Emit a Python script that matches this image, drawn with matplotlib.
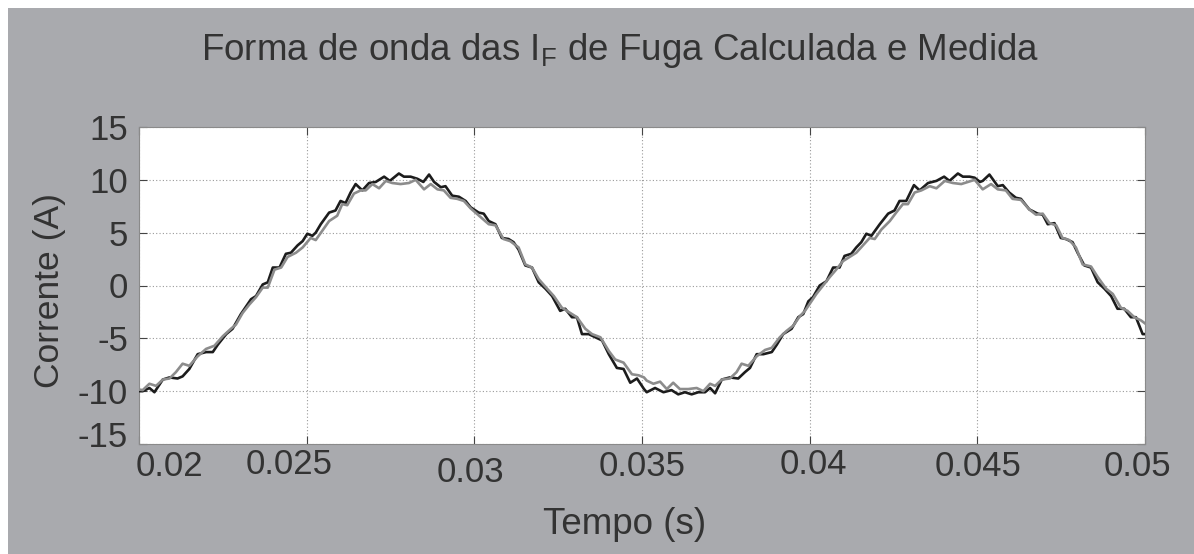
import matplotlib
matplotlib.use("Agg")
import matplotlib.pyplot as plt
from matplotlib.patches import Rectangle
from matplotlib.transforms import ScaledTranslation

plt.rcParams['font.family'] = ['Liberation Sans', 'DejaVu Sans']
plt.rcParams['mathtext.fontset'] = 'custom'
plt.rcParams['mathtext.rm'] = 'Liberation Sans'

# ---------------- data ----------------
t_medida = [0.01991, 0.02011, 0.02031, 0.02046, 0.02071, 0.02091, 0.02115, 0.02130, 0.02150, 0.02175,
            0.02200, 0.02220, 0.02235, 0.02260, 0.02279, 0.02304, 0.02334, 0.02349, 0.02369, 0.02384,
            0.02399, 0.02419, 0.02438, 0.02453, 0.02473, 0.02488,
            0.02502, 0.02517, 0.02527, 0.02542, 0.02567, 0.02586, 0.02601, 0.02616, 0.02631, 0.02646,
            0.02666, 0.02686, 0.02706, 0.02731, 0.02748, 0.02775, 0.02790, 0.02810, 0.02830, 0.02848,
            0.02865, 0.02880, 0.02900, 0.02914, 0.02934, 0.02954, 0.02974, 0.02989,
            0.03013, 0.03028, 0.03043, 0.03063, 0.03082, 0.03102, 0.03117, 0.03132, 0.03152, 0.03172,
            0.03192, 0.03212, 0.03232, 0.03256, 0.03271, 0.03291, 0.03306, 0.03321, 0.03341, 0.03361,
            0.03381, 0.03401, 0.03425, 0.03445, 0.03465, 0.03485, 0.03506,
            0.03514, 0.03539, 0.03564, 0.03588, 0.03608, 0.03628, 0.03648, 0.03668, 0.03688, 0.03703,
            0.03718, 0.03738, 0.03762, 0.03787, 0.03807, 0.03822, 0.03842, 0.03862, 0.03887, 0.03902,
            0.03921, 0.03946, 0.03966, 0.03981, 0.03996,
            0.04010, 0.04030, 0.04050, 0.04070, 0.04089, 0.04104, 0.04124, 0.04139, 0.04154, 0.04169,
            0.04184, 0.04209, 0.04234, 0.04253, 0.04268, 0.04288, 0.04311, 0.04328, 0.04353, 0.04378,
            0.04401, 0.04417, 0.04442, 0.04457, 0.04477, 0.04492, 0.04508,
            0.04516, 0.04536, 0.04561, 0.04576, 0.04595, 0.04615, 0.04630, 0.04655, 0.04680, 0.04695,
            0.04710, 0.04730, 0.04749, 0.04764, 0.04784, 0.04799, 0.04819, 0.04839, 0.04859, 0.04879,
            0.04899, 0.04918, 0.04938, 0.04958, 0.04973, 0.04993, 0.05009]
i_medida = [-10.0, -10.0, -9.7, -10.1, -8.9, -8.7, -8.8, -8.6, -7.9, -6.5,
            -6.3, -6.3, -5.6, -4.6, -4.1, -2.7, -1.3, -1.0, 0.1, 0.3,
            1.7, 1.7, 3.0, 3.1, 3.8, 4.2,
            4.9, 4.7, 5.0, 5.8, 6.9, 7.1, 8.0, 7.8, 8.8, 9.6,
            9.0, 9.7, 9.8, 10.3, 9.9, 10.6, 10.3, 10.3, 10.1, 9.8,
            10.5, 9.8, 9.3, 9.4, 8.5, 8.4, 8.0, 7.4,
            6.9, 6.8, 6.1, 5.8, 4.5, 4.4, 4.1, 3.4, 1.9, 1.7,
            0.3, -0.3, -1.0, -2.4, -2.2, -3.0, -3.0, -4.6, -4.6, -4.9,
            -5.2, -6.5, -7.8, -7.9, -9.2, -8.8, -9.8,
            -10.1, -9.7, -10.1, -9.9, -10.3, -10.1, -10.3, -10.1, -10.1, -9.7,
            -10.2, -8.9, -8.7, -8.8, -8.2, -7.8, -6.5, -6.5, -6.3, -5.6,
            -4.6, -4.1, -3.0, -2.7, -1.5,
            -1.1, 0.0, 0.4, 1.7, 1.7, 2.8, 3.0, 3.6, 4.1, 4.9,
            4.7, 5.8, 6.8, 7.1, 8.0, 8.0, 9.5, 9.0, 9.7, 9.9,
            10.3, 9.9, 10.6, 10.3, 10.3, 10.2, 9.8,
            9.9, 10.5, 9.4, 9.5, 8.8, 8.3, 8.2, 7.2, 6.8, 6.7,
            5.8, 5.9, 4.5, 4.4, 4.1, 3.1, 1.9, 1.7, 0.3, -0.3,
            -1.0, -2.2, -2.2, -3.0, -3.0, -4.6, -4.6]

t_calculada = [0.01991, 0.02011, 0.02031, 0.02051, 0.02071, 0.02091, 0.02110, 0.02130, 0.02150, 0.02175,
               0.02200, 0.02225, 0.02250, 0.02274, 0.02289, 0.02309, 0.02329, 0.02349, 0.02369, 0.02384,
               0.02404, 0.02424, 0.02443, 0.02468, 0.02488,
               0.02512, 0.02527, 0.02547, 0.02567, 0.02591, 0.02606, 0.02621, 0.02641, 0.02661, 0.02676,
               0.02696, 0.02716, 0.02736, 0.02755, 0.02780, 0.02805, 0.02825, 0.02850, 0.02870, 0.02890,
               0.02909, 0.02929, 0.02949, 0.02969, 0.02989,
               0.03018, 0.03043, 0.03063, 0.03087, 0.03107, 0.03132, 0.03152, 0.03172, 0.03192, 0.03217,
               0.03237, 0.03261, 0.03281, 0.03306, 0.03331, 0.03351, 0.03376, 0.03401, 0.03420, 0.03445,
               0.03470, 0.03490, 0.03506,
               0.03514, 0.03534, 0.03554, 0.03574, 0.03593, 0.03613, 0.03638, 0.03663, 0.03683, 0.03703,
               0.03718, 0.03738, 0.03762, 0.03782, 0.03797, 0.03817, 0.03842, 0.03867, 0.03887, 0.03911,
               0.03931, 0.03951, 0.03971, 0.03986,
               0.04020, 0.04040, 0.04060, 0.04079, 0.04099, 0.04119, 0.04139, 0.04159, 0.04179, 0.04194,
               0.04214, 0.04239, 0.04258, 0.04278, 0.04293, 0.04313, 0.04333, 0.04358, 0.04378, 0.04403,
               0.04427, 0.04452, 0.04472, 0.04492,
               0.04516, 0.04541, 0.04561, 0.04585, 0.04605, 0.04630, 0.04655, 0.04675, 0.04695, 0.04715,
               0.04735, 0.04754, 0.04774, 0.04794, 0.04814, 0.04839, 0.04859, 0.04884, 0.04904, 0.04928,
               0.04948, 0.04968, 0.04988, 0.05009]
i_calculada = [-9.8, -9.9, -9.3, -9.5, -8.9, -8.8, -8.2, -7.4, -7.6, -6.7,
               -6.0, -5.7, -4.8, -4.1, -3.7, -2.6, -1.8, -1.1, -0.2, -0.2,
               1.5, 1.7, 2.7, 3.1, 3.6,
               4.5, 4.3, 5.2, 6.1, 6.6, 7.7, 7.6, 8.7, 9.0, 9.0,
               9.6, 9.2, 9.9, 9.7, 9.6, 9.7, 10.0, 9.1, 9.6, 9.1,
               9.0, 8.3, 8.2, 8.0, 7.3,
               6.5, 5.8, 5.7, 4.4, 4.2, 3.6, 2.0, 1.7, 0.6, -0.3,
               -1.0, -2.1, -2.5, -3.0, -4.1, -4.6, -4.9, -6.2, -7.0, -7.3,
               -8.4, -8.5, -8.7,
               -9.0, -9.3, -9.1, -9.8, -9.2, -9.8, -9.8, -9.7, -10.0, -9.3,
               -9.5, -8.9, -8.8, -8.2, -7.4, -7.6, -6.7, -6.1, -5.9, -4.9,
               -4.3, -3.8, -2.9, -2.4,
               -0.8, 0.0, 0.8, 1.5, 2.3, 2.7, 3.1, 3.8, 4.5, 4.4,
               5.3, 6.1, 6.9, 7.7, 7.7, 8.8, 9.0, 9.4, 9.2, 9.9,
               9.7, 9.6, 9.8, 10.0,
               9.1, 9.6, 9.1, 9.0, 8.2, 8.1, 7.2, 6.7, 6.8, 5.9,
               5.7, 4.5, 4.3, 3.6, 2.0, 1.8, 0.8, -0.3, -0.8, -2.1,
               -2.4, -3.0, -3.3, -3.8]

x_ticks = [0.02, 0.025, 0.03, 0.035, 0.04, 0.045, 0.05]
x_ticklabels = ['0.02', '0.025', '0.03', '0.035', '0.04', '0.045', '0.05']
y_ticks = [-15, -10, -5, 0, 5, 10, 15]
y_ticklabels = ['-15', '-10', '-5', '0', '5', '10', '15']

title = r'Forma de onda das $\mathregular{I_F}$ de Fuga Calculada e Medida'
xlabel = 'Tempo (s)'
ylabel = 'Corrente (A)'

# ---------------- figure ----------------
W, H = 1194, 554
fig = plt.figure(figsize=(W / 100, H / 100), dpi=100, facecolor='white')
fig.patches.append(Rectangle((8 / W, 0), 1, 1 - 8 / H, transform=fig.transFigure,
                             facecolor='#a9aaae', edgecolor='none', zorder=-5))

ax = fig.add_axes([139 / W, 1 - 444 / H, (1145 - 139) / W, (444 - 127) / H])
ax.set_zorder(2)
ax.set_facecolor('white')

txt = '#333333'
ax.plot(t_medida, i_medida, color='#1c1c1c', lw=1.9, zorder=3, solid_joinstyle='round')
ax.plot(t_calculada, i_calculada, color='#8c8c8c', lw=1.9, zorder=3, solid_joinstyle='round')

ax.set_xlim(0.02, 0.05)
ax.set_ylim(-15, 15)
ax.set_xticks(x_ticks)
ax.set_xticklabels(x_ticklabels)
ax.set_yticks(y_ticks)
ax.set_yticklabels(y_ticklabels)

ax.tick_params(axis='both', which='major', direction='in', length=6, width=0.8,
               color='#444444', labelsize=25, labelcolor=txt, top=True, right=True)
ax.tick_params(axis='x', pad=4)
ax.tick_params(axis='y', pad=8)

# the exported figure has slightly displaced tick labels; mimic them
x_label_shift = [30, -18, -4, 0, 4, 1, -8]       # pixels, right positive
x_label_drop = [0, -2, 6, 0, -2, 0, 0]           # pixels, down positive
for lab, dx, dy in zip(ax.get_xticklabels(), x_label_shift, x_label_drop):
    lab.set_transform(lab.get_transform() + ScaledTranslation(dx / 100, -dy / 100, fig.dpi_scale_trans))
y_label_lift = [10, 0, 0, 0, 0, 0, 0]
for lab, dy in zip(ax.get_yticklabels(), y_label_lift):
    lab.set_transform(lab.get_transform() + ScaledTranslation(0, dy / 100, fig.dpi_scale_trans))

ax.grid(True, linestyle=(0, (1, 2)), color='#9a9a9a', linewidth=0.8)
for s in ax.spines.values():
    s.set_color('#8a8a8a')
    s.set_linewidth(0.8)

fig.text(620 / W, 1 - 51 / H, title, ha='center', va='center', fontsize=26.5, color=txt)
fig.text(625 / W, 1 - 524 / H, xlabel, ha='center', va='center', fontsize=26.5, color=txt)
fig.text(50 / W, 1 - 290 / H, ylabel, ha='center', va='center', fontsize=25.5, color=txt,
         rotation=90)

fig.savefig('out.png', dpi=100, facecolor=fig.get_facecolor())
